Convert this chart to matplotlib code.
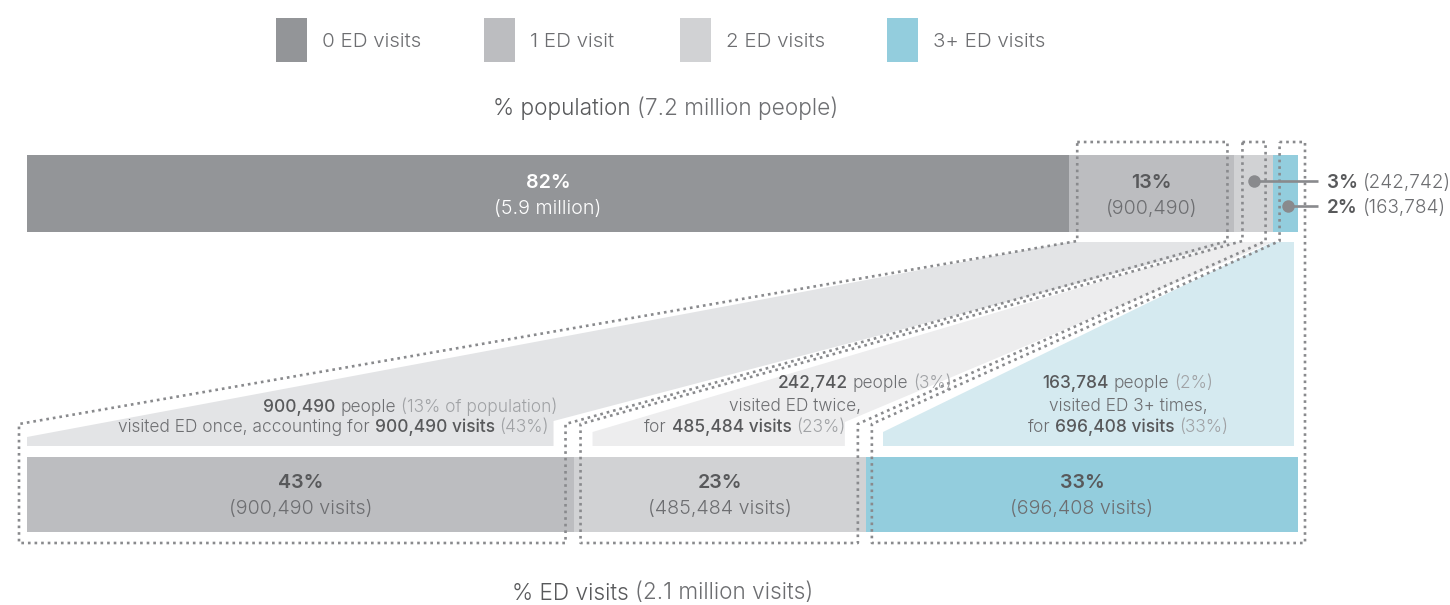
import matplotlib
matplotlib.use("Agg")
import matplotlib.pyplot as plt
from matplotlib.patches import Polygon, Rectangle

# ---------------- data ----------------
categories = ["0 ED visits", "1 ED visit", "2 ED visits", "3+ ED visits"]
pop_share = [82, 13, 3, 2]                       # % population
pop_people = ["5.9 million", "900,490", "242,742", "163,784"]
visit_cats = ["1 ED visit", "2 ED visits", "3+ ED visits"]
visit_share = [43, 23, 34]                       # bar widths as drawn
visit_pct_labels = ["43%", "23%", "33%"]
visit_counts = ["900,490", "485,484", "696,408"]
title_top = ("% population", "(7.2 million people)")
title_bottom = ("% ED visits", "(2.1 million visits)")

colors = ["#939598", "#bcbdc0", "#d1d2d4", "#93cddd"]
fill_colors = ["#e3e4e6", "#ededee", "#d5eaf0"]
C_BOLD = "#58595b"
C_REG = "#6d6e71"
C_LIGHT = "#a0a2a5"
DOT = "#898a8d"

FONT = "Inter"
LIGHT = 300
BOLD = 600

W, H = 1450, 605
fig = plt.figure(figsize=(W / 100, H / 100), dpi=100)
ax = fig.add_axes([0, 0, 1, 1])
ax.set_xlim(0, W)
ax.set_ylim(H, 0)
ax.axis("off")

# horizontal scale (share -> pixel)
X0, X1 = 27, 1298
def sx(v, total=100.0):
    return X0 + (X1 - X0) * v / total

renderer = fig.canvas.get_renderer()

def text_w(s, size, weight):
    t = ax.text(0, 0, s, fontsize=size, family=FONT, fontweight=weight)
    w = t.get_window_extent(renderer).width
    t.remove()
    return w

def runs(x, y, parts, ha="center", size=12):
    """parts: list of (text, color, weight); separated by a space."""
    sp = text_w("x x", size, LIGHT) - text_w("xx", size, LIGHT)
    widths = [text_w(p[0], size, p[2]) for p in parts]
    total = sum(widths) + sp * (len(parts) - 1)
    if ha == "center":
        cx = x - total / 2
    elif ha == "right":
        cx = x - total
    else:
        cx = x
    for (s, c, wgt), w in zip(parts, widths):
        ax.text(cx, y, s, fontsize=size, family=FONT, fontweight=wgt,
                color=c, ha="left", va="center_baseline", zorder=6)
        cx += w + sp

# ---------------- legend ----------------
leg_x = [276, 484, 680, 887]
for lx, lab, col in zip(leg_x, categories, colors):
    ax.add_patch(Rectangle((lx, 18), 31, 44, color=col, lw=0))
    ax.text(lx + 46, 40, lab, fontsize=14.8, family=FONT, fontweight=LIGHT,
            color=C_REG, va="center_baseline", ha="left")

# ---------------- titles ----------------
TS = 16.3
runs(666, 106, [(title_top[0], C_BOLD, LIGHT), (title_top[1], C_REG, LIGHT)], size=TS)
runs(663, 591, [(title_bottom[0], C_BOLD, LIGHT), (title_bottom[1], C_REG, LIGHT)], size=TS)

# ---------------- geometry from data ----------------
top_y0, top_y1 = 155, 232
bot_y0, bot_y1 = 457, 532

top_b = []
acc = 0
for v in pop_share:
    top_b.append((sx(acc), sx(acc + v)))
    acc += v
bot_b = []
acc = 0
tot_v = sum(visit_share)
for v in visit_share:
    bot_b.append((sx(acc, tot_v), sx(acc + v, tot_v)))
    acc += v

# ---------------- fills (funnels) ----------------
fy_top, fy_bot = 242, 446
seg = top_b[1:]
f1 = [(seg[0][0], fy_top), (seg[0][1], fy_top), (bot_b[0][1] - 20, 421),
      (bot_b[0][1] - 20, fy_bot), (bot_b[0][0], fy_bot), (bot_b[0][0], 437)]
f2 = [(seg[1][0], fy_top), (seg[1][1], fy_top), (bot_b[1][1] - 21, 422),
      (bot_b[1][1] - 21, fy_bot), (bot_b[1][0] + 19, fy_bot), (bot_b[1][0] + 19, 432)]
f3 = [(seg[2][0], fy_top), (seg[2][1] - 4, fy_top), (bot_b[2][1] - 4, fy_bot),
      (bot_b[2][0] + 17, fy_bot), (bot_b[2][0] + 17, 432)]
for pts, fc in zip([f1, f2, f3], fill_colors):
    ax.add_patch(Polygon(pts, closed=True, facecolor=fc, edgecolor="none", zorder=1))

# ---------------- bars ----------------
ax.barh([(top_y0 + top_y1) / 2] * 4, [b - a for a, b in top_b],
        left=[a for a, b in top_b], height=top_y1 - top_y0,
        color=colors, linewidth=0, zorder=2)
ax.barh([(bot_y0 + bot_y1) / 2] * 3, [b - a for a, b in bot_b],
        left=[a for a, b in bot_b], height=bot_y1 - bot_y0,
        color=colors[1:], linewidth=0, zorder=2)

# ---------------- dotted outlines ----------------
bt, jt, jb, bb = 142, 241, 424, 543
dot_kw = dict(color=DOT, lw=1.9, linestyle=(0, (1, 1.5)), zorder=4,
              solid_capstyle="butt", dash_capstyle="butt")
outlines = [
    (top_b[1][0] + 8, top_b[1][1] - 7, bot_b[0][0] - 8, bot_b[0][1] - 8, False),
    (top_b[2][0] + 8, top_b[2][1] - 7, bot_b[1][0] + 7, bot_b[1][1] - 8, False),
    (top_b[3][0] + 7, bot_b[2][1] + 7, bot_b[2][0] + 6, bot_b[2][1] + 7, True),
]
for tl, tr, bl, br, straight in outlines:
    if straight:
        xs = [tl, tr, br, bl, bl, tl, tl]
        ys = [bt, bt, bb, bb, jb, jt, bt]
    else:
        xs = [tl, tr, tr, br, br, bl, bl, tl, tl]
        ys = [bt, bt, jt, jb, bb, bb, jb, jt, bt]
    ax.plot(xs, ys, **dot_kw)

# ---------------- bar labels ----------------
BS = 14.2
cx0 = (top_b[0][0] + top_b[0][1]) / 2
ax.text(cx0, 181, f"{pop_share[0]}%", fontsize=BS, family=FONT, fontweight=BOLD,
        color="white", ha="center", va="center_baseline", zorder=5)
ax.text(cx0, 207, f"({pop_people[0]})", fontsize=BS, family=FONT, fontweight=LIGHT,
        color="white", ha="center", va="center_baseline", zorder=5)
cx1 = (top_b[1][0] + top_b[1][1]) / 2
ax.text(cx1, 181, f"{pop_share[1]}%", fontsize=BS, family=FONT, fontweight=BOLD,
        color=C_BOLD, ha="center", va="center_baseline", zorder=5)
ax.text(cx1, 207, f"({pop_people[1]})", fontsize=BS, family=FONT, fontweight=LIGHT,
        color=C_REG, ha="center", va="center_baseline", zorder=5)

for (a, b), pl, vc in zip(bot_b, visit_pct_labels, visit_counts):
    c = (a + b) / 2
    ax.text(c, 481, pl, fontsize=BS, family=FONT, fontweight=BOLD,
            color=C_BOLD, ha="center", va="center_baseline", zorder=5)
    ax.text(c, 507, f"({vc} visits)", fontsize=BS, family=FONT, fontweight=LIGHT,
            color=C_REG, ha="center", va="center_baseline", zorder=5)

# ---------------- small-segment callouts ----------------
for i, yy, dx in [(2, 181, 0.5), (3, 206, 0.6)]:
    a, b = top_b[i]
    px = a + (b - a) * dx
    ax.plot([px, 1318], [yy, yy], color=DOT, lw=1.9, zorder=5, solid_capstyle="butt")
    ax.plot([px], [yy], "o", ms=9, color=DOT, mec="none", zorder=6)
    runs(1327, yy, [(f"{pop_share[i]}%", C_BOLD, BOLD), (f"({pop_people[i]})", C_REG, LIGHT)],
         ha="left", size=13.6)

# ---------------- funnel annotations ----------------
S = 12.45
runs(557, 405, [(pop_people[1], C_BOLD, 500), ("people", C_REG, LIGHT),
                (f"({pop_share[1]}% of population)", C_LIGHT, LIGHT)], ha="right", size=S)
runs(549, 425, [("visited ED once, accounting for", C_REG, LIGHT),
                (f"{visit_counts[0]} visits", C_BOLD, 500),
                (f"({visit_pct_labels[0]})", C_LIGHT, LIGHT)], ha="right", size=S)

runs(865, 381, [(pop_people[2], C_BOLD, 500), ("people", C_REG, LIGHT),
                (f"({pop_share[2]}%)", C_LIGHT, LIGHT)], size=S)
runs(795, 404, [("visited ED twice,", C_REG, LIGHT)], size=S)
runs(745, 425, [("for", C_REG, LIGHT), (f"{visit_counts[1]} visits", C_BOLD, 500),
                (f"({visit_pct_labels[1]})", C_LIGHT, LIGHT)], size=S)

runs(1128, 381, [(pop_people[3], C_BOLD, 500), ("people", C_REG, LIGHT),
                 (f"({pop_share[3]}%)", C_LIGHT, LIGHT)], size=S)
runs(1128, 404, [("visited ED 3+ times,", C_REG, LIGHT)], size=S)
runs(1128, 425, [("for", C_REG, LIGHT), (f"{visit_counts[2]} visits", C_BOLD, 500),
                 (f"({visit_pct_labels[2]})", C_LIGHT, LIGHT)], size=S)

fig.savefig("out.png", dpi=100)
